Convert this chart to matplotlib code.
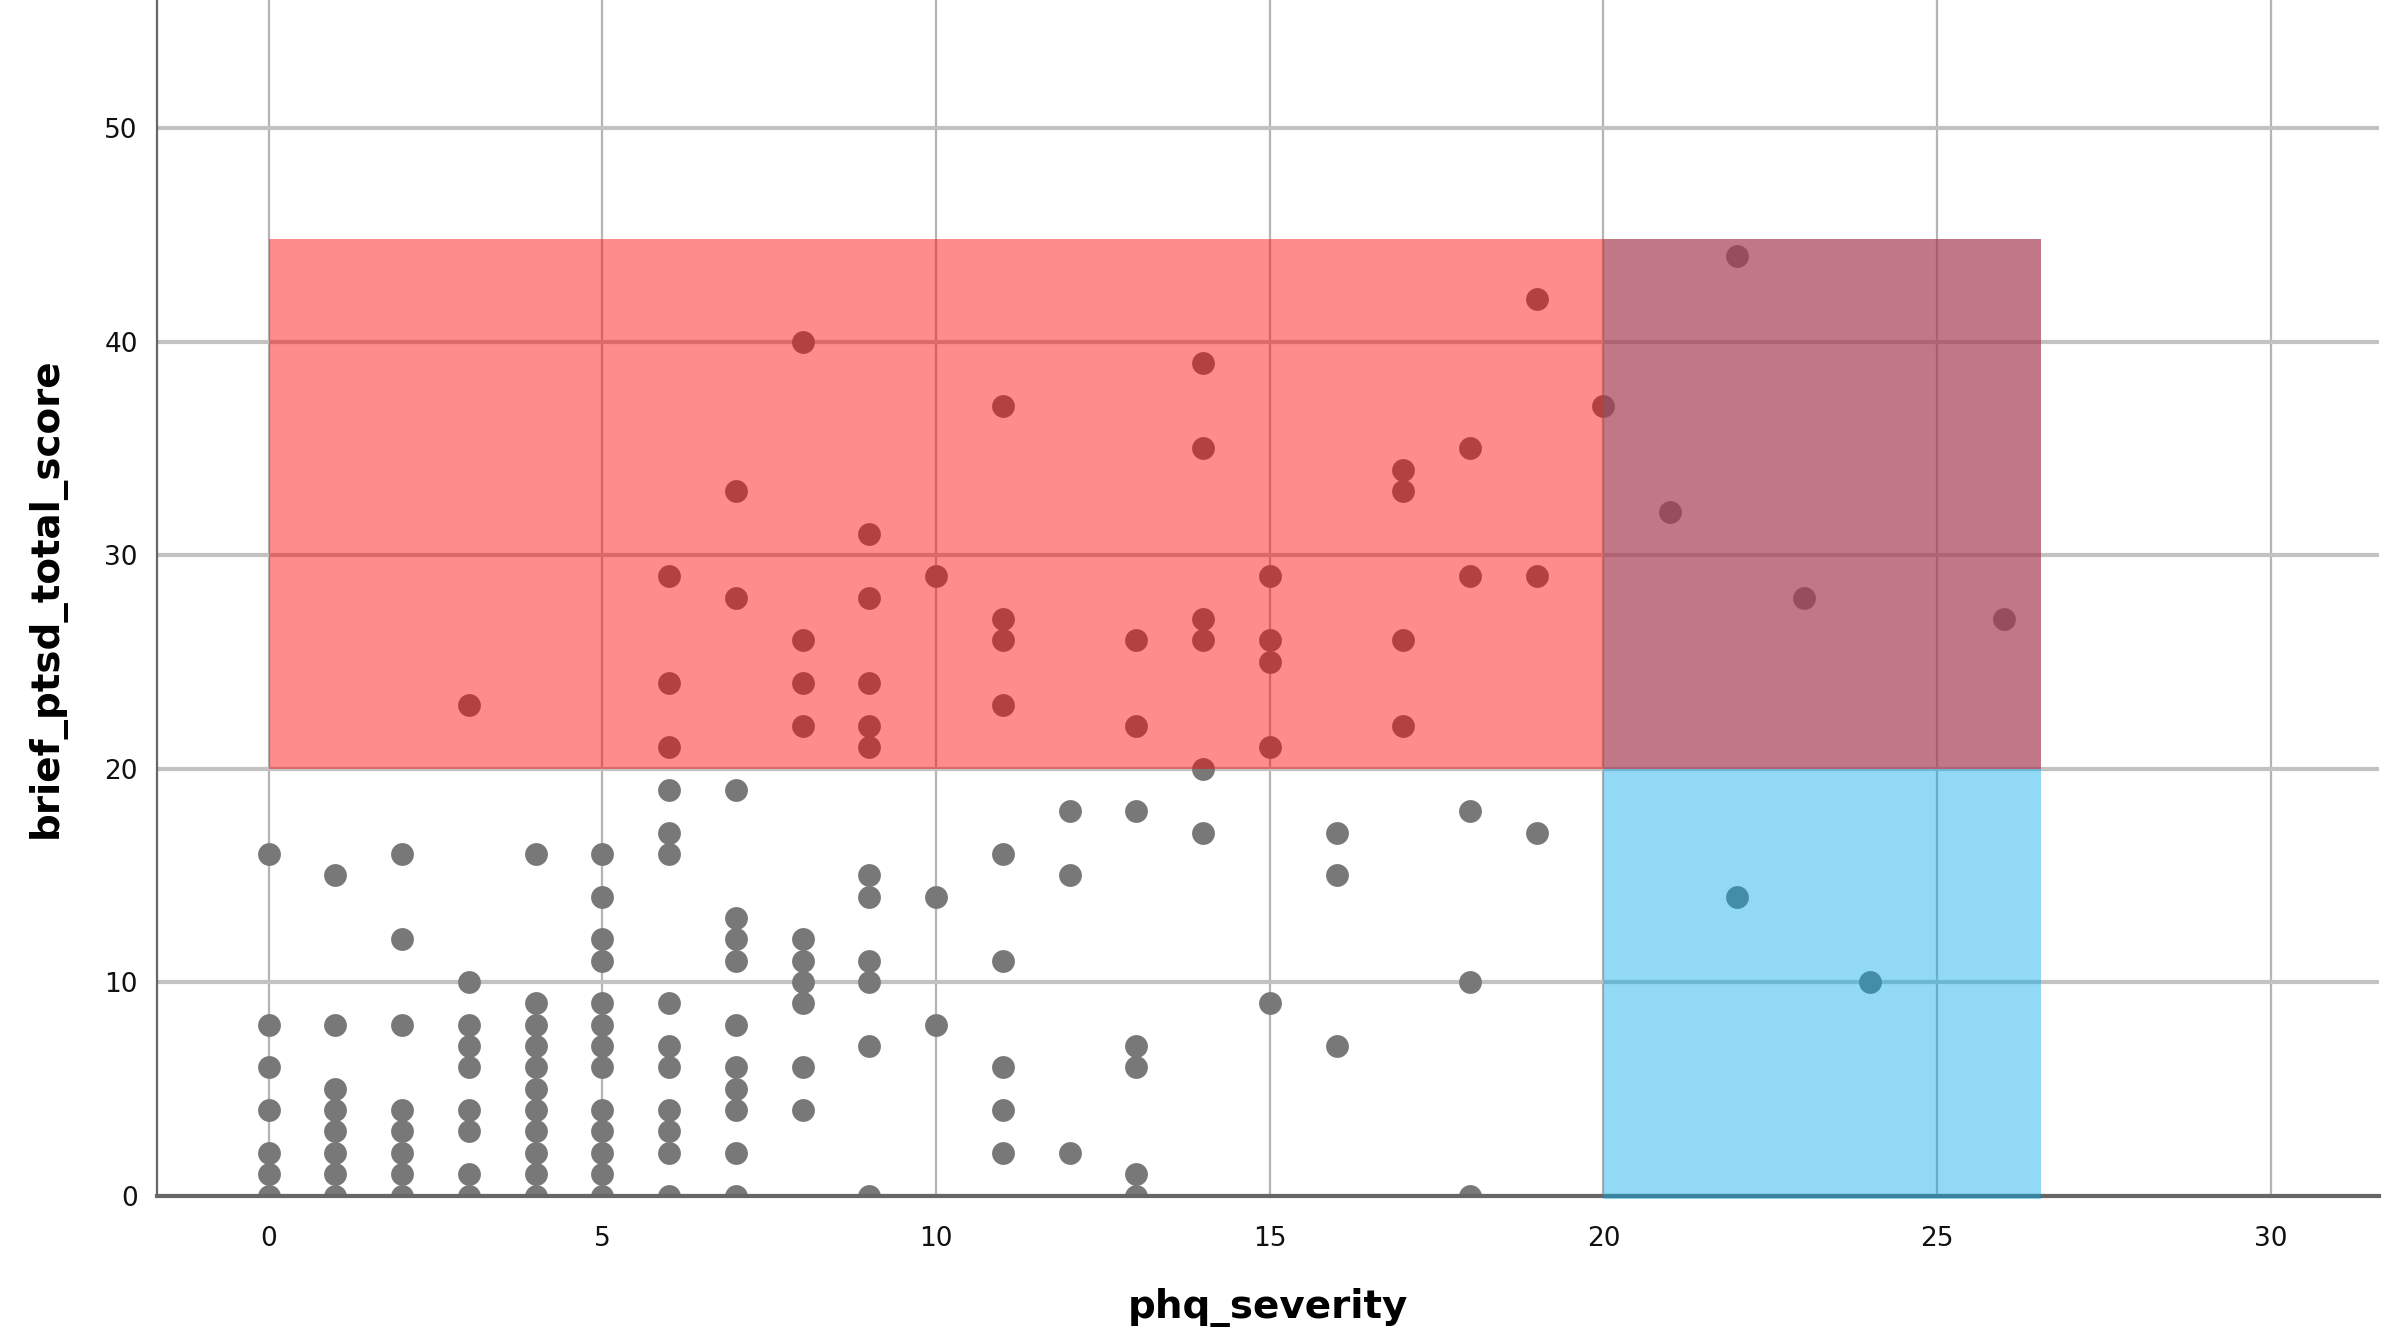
import matplotlib
matplotlib.use("Agg")
import matplotlib.pyplot as plt
from matplotlib.patches import Rectangle

# one entry per respondent, grouped by phq column
phq_severity = [
    0, 0, 0, 0, 0, 0, 0,
    1, 1, 1, 1, 1, 1, 1, 1,
    2, 2, 2, 2, 2, 2, 2, 2,
    3, 3, 3, 3, 3, 3, 3, 3, 3,
    4, 4, 4, 4, 4, 4, 4, 4, 4, 4, 4,
    5, 5, 5, 5, 5, 5, 5, 5, 5, 5, 5, 5, 5,
    6, 6, 6, 6, 6, 6, 6, 6, 6, 6, 6, 6, 6,
    7, 7, 7, 7, 7, 7, 7, 7, 7, 7, 7, 7,
    8, 8, 8, 8, 8, 8, 8, 8, 8, 8,
    9, 9, 9, 9, 9, 9, 9, 9, 9, 9, 9,
    10, 10, 10,
    11, 11, 11, 11, 11, 11, 11, 11, 11,
    12, 12, 12,
    13, 13, 13, 13, 13, 13, 13,
    14, 14, 14, 14, 14, 14,
    15, 15, 15, 15, 15,
    16, 16, 16,
    17, 17, 17, 17,
    18, 18, 18, 18, 18,
    19, 19, 19,
    20, 21, 22, 22, 23, 24, 26,
]
brief_ptsd_total_score = [
    16, 8, 6, 4, 2, 1, 0,
    15, 8, 5, 4, 3, 2, 1, 0,
    16, 12, 8, 4, 3, 2, 1, 0,
    23, 10, 8, 7, 6, 4, 3, 1, 0,
    16, 9, 8, 7, 6, 5, 4, 3, 2, 1, 0,
    16, 14, 12, 11, 9, 8, 7, 6, 4, 3, 2, 1, 0,
    29, 24, 21, 19, 17, 16, 9, 7, 6, 4, 3, 2, 0,
    33, 28, 19, 13, 12, 11, 8, 6, 5, 4, 2, 0,
    40, 26, 24, 22, 12, 11, 10, 9, 6, 4,
    31, 28, 24, 22, 21, 15, 14, 11, 10, 7, 0,
    29, 14, 8,
    37, 27, 26, 23, 16, 11, 6, 4, 2,
    18, 15, 2,
    26, 22, 18, 7, 6, 1, 0,
    39, 35, 27, 26, 20, 17,
    29, 26, 25, 21, 9,
    17, 15, 7,
    34, 33, 26, 22,
    35, 29, 18, 10, 0,
    42, 29, 17,
    37, 32, 44, 14, 28, 10, 27,
]

# highlighted zones (x0, x1, y0, y1)
ptsd_zone = (0, 26.56, 20, 44.8)
phq_zone = (20, 26.56, -0.15, 44.8)

xticks = [0, 5, 10, 15, 20, 25, 30]
yticks = [0, 10, 20, 30, 40, 50]

fig = plt.figure(figsize=(23.94, 13.37), dpi=100, facecolor='w')
ax = fig.add_axes([0.0657, 0.1058, 0.928, 0.8942])

ax.scatter(phq_severity, brief_ptsd_total_score, s=270, color='#787878',
           linewidths=0, zorder=2)

x0, x1, y0, y1 = phq_zone
ax.add_patch(Rectangle((x0, y0), x1 - x0, y1 - y0, facecolor='#00a9e8',
                       alpha=0.43, lw=0, zorder=3, clip_on=False))
x0, x1, y0, y1 = ptsd_zone
ax.add_patch(Rectangle((x0, y0), x1 - x0, y1 - y0, facecolor='#ff0000',
                       alpha=0.45, lw=0, zorder=4))

ax.set_xlim(-1.67, 31.62)
ax.set_ylim(0, 56)
ax.set_xticks(xticks)
ax.set_yticks(yticks)
ax.set_axisbelow(True)
ax.xaxis.grid(True, color='#b4b4b4', lw=1.6)
ax.yaxis.grid(True, color='#c2c2c2', lw=3)
ax.tick_params(length=0, labelsize=19, colors='#111111')
ax.tick_params(axis='x', pad=22)
ax.tick_params(axis='y', pad=14)

for side in ['top', 'right']:
    ax.spines[side].set_visible(False)
ax.spines['left'].set_color('#666666')
ax.spines['left'].set_linewidth(1.6)
ax.spines['bottom'].set_color('#666666')
ax.spines['bottom'].set_linewidth(3)

ax.set_xlabel('phq_severity', fontsize=28, fontweight='bold', labelpad=26)
ax.set_ylabel('brief_ptsd_total_score', fontsize=28, fontweight='bold',
              labelpad=28)

fig.savefig('out.png', dpi=100)
